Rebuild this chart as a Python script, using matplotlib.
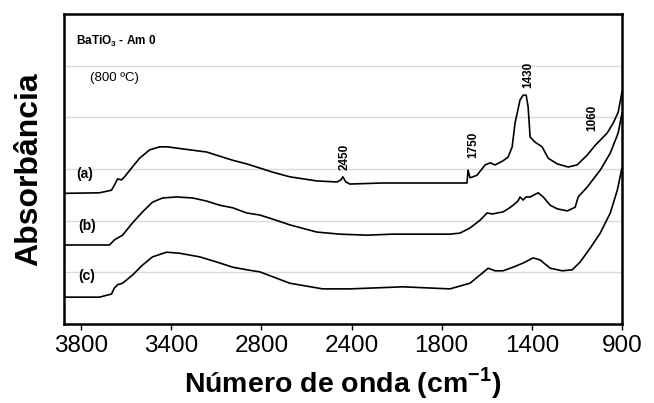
import numpy as np
import matplotlib
matplotlib.use("Agg")
import matplotlib.pyplot as plt

plt.rcParams['font.family'] = ['Liberation Sans', 'DejaVu Sans']
plt.rcParams['mathtext.fontset'] = 'custom'
plt.rcParams['mathtext.rm'] = 'Liberation Sans'
plt.rcParams['mathtext.bf'] = 'Liberation Sans:bold'

# espectros (numero de onda, absorbancia)
wn_a = [4010, 3813, 3746, 3723, 3712, 3690, 3673, 3634, 3589, 3534, 3478, 3433, 3349,
        3215, 3143, 3070, 2992, 2919, 2847, 2752, 2601, 2489, 2467, 2456, 2439, 2417,
        2233, 1859, 1764, 1758, 1747, 1708, 1663, 1635, 1607, 1563, 1535, 1512, 1496,
        1468, 1451, 1434, 1423, 1412, 1384, 1345, 1311, 1261, 1200, 1150, 1094, 1049,
        982, 949, 921, 900]
abs_a = [2.53, 2.54, 2.59, 2.73, 2.81, 2.79, 2.85, 3.02, 3.21, 3.37, 3.43, 3.43, 3.39,
         3.33, 3.25, 3.17, 3.10, 3.02, 2.94, 2.85, 2.77, 2.75, 2.79, 2.85, 2.75, 2.71,
         2.73, 2.73, 2.73, 2.98, 2.83, 2.88, 3.08, 3.12, 3.08, 3.16, 3.23, 3.43, 3.89,
         4.34, 4.43, 4.43, 4.20, 3.62, 3.52, 3.43, 3.21, 3.10, 3.04, 3.08, 3.27, 3.46,
         3.70, 3.89, 4.10, 4.49]

wn_b = [4010, 3757, 3729, 3684, 3628, 3573, 3517, 3461, 3383, 3293, 3215, 3143, 3070,
        2992, 2919, 2864, 2752, 2601, 2473, 2322, 2177, 1859, 1803, 1747, 1691, 1652,
        1620, 1596, 1563, 1530, 1507, 1480, 1468, 1451, 1435, 1412, 1367, 1339, 1300,
        1261, 1205, 1161, 1144, 1094, 1021, 965, 921, 900]
abs_b = [1.53, 1.53, 1.63, 1.72, 1.96, 2.17, 2.36, 2.44, 2.46, 2.44, 2.38, 2.30, 2.25,
         2.15, 2.11, 2.05, 1.92, 1.78, 1.74, 1.72, 1.74, 1.74, 1.76, 1.86, 2.01, 2.15,
         2.13, 2.15, 2.17, 2.24, 2.30, 2.38, 2.46, 2.40, 2.46, 2.46, 2.54, 2.46, 2.30,
         2.23, 2.19, 2.26, 2.46, 2.65, 2.98, 3.31, 3.70, 4.08]

wn_c = [4010, 3813, 3746, 3729, 3712, 3684, 3628, 3573, 3517, 3439, 3366, 3254, 3159,
        3070, 2992, 2919, 2752, 2568, 2417, 2121, 1859, 1747, 1691, 1646, 1607, 1563,
        1507, 1451, 1395, 1356, 1300, 1233, 1177, 1133, 1077, 1021, 965, 926, 900]
abs_c = [0.52, 0.52, 0.58, 0.70, 0.76, 0.79, 0.95, 1.14, 1.30, 1.39, 1.37, 1.30, 1.20,
         1.10, 1.05, 1.01, 0.79, 0.68, 0.68, 0.72, 0.68, 0.79, 0.95, 1.08, 1.03, 1.03,
         1.10, 1.18, 1.28, 1.24, 1.08, 1.03, 1.05, 1.20, 1.47, 1.76, 2.15, 2.59, 3.02]

xtick_labels = ['3800', '3400', '2800', '2400', '1800', '1400', '900']
picos = ['2450', '1750', '1430', '1060']
picos_x = [2445, 1730, 1423, 1066]
picos_y = [3.23, 3.46, 4.82, 3.99]

fig = plt.figure(figsize=(6.54, 4.03), dpi=100)
ax = fig.add_axes([0.098, 0.196, 0.853, 0.769])

for wn, ab in [(wn_a, abs_a), (wn_b, abs_b), (wn_c, abs_c)]:
    ax.plot(wn, ab, color='black', lw=1.2, zorder=3)

ax.set_xlim(4010, 900)
ax.set_ylim(0, 6)
ax.set_xticks(np.linspace(3915, 900, 7))
ax.set_xticklabels(xtick_labels, fontsize=17.5)
ax.set_yticks([1, 2, 3, 4, 5])
ax.set_yticklabels([])
ax.tick_params(axis='y', length=0)
ax.tick_params(axis='x', direction='out', length=4, width=1, pad=4)
ax.grid(axis='y', color='#d9d9d9', lw=1, zorder=0)
for s in ax.spines.values():
    s.set_linewidth(1.8)

ax.set_ylabel('Absorbância', fontsize=23, fontweight='bold', labelpad=11)
ax.set_xlabel('Número de onda (cm$^{\\mathbf{-1}}$)', fontsize=20.5, fontweight='bold',
              labelpad=6)

ax.text(3941, 5.48, 'BaTiO$_{\\mathbf{3}}$ - Am 0', fontsize=8.5, fontweight='bold',
        va='center', ha='left')
ax.text(3868, 4.76, '(800 ºC)', fontsize=9.5, va='center', ha='left')
ax.text(3941, 2.9, '(a)', fontsize=10, fontweight='bold', va='center', ha='left')
ax.text(3930, 1.9, '(b)', fontsize=10, fontweight='bold', va='center', ha='left')
ax.text(3930, 0.93, '(c)', fontsize=10, fontweight='bold', va='center', ha='left')
for lab, px, py in zip(picos, picos_x, picos_y):
    ax.text(px, py, lab, rotation=90, fontsize=8.5, fontweight='bold',
            ha='center', va='center')

fig.savefig('out.png', dpi=100)
